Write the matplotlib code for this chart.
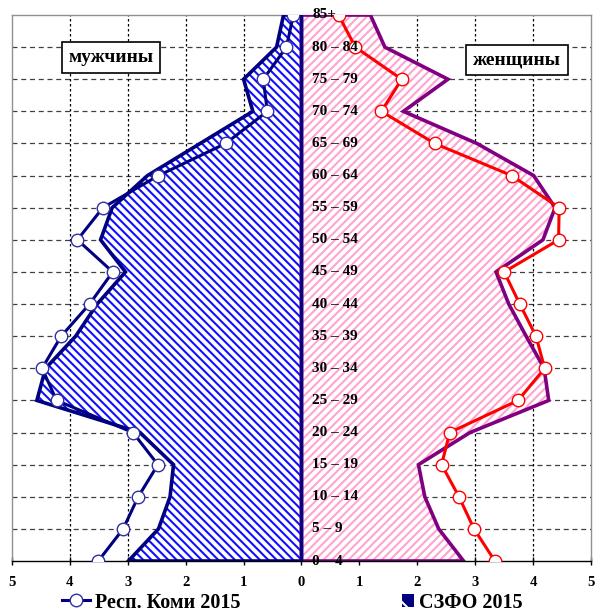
import matplotlib
matplotlib.use("Agg")
import matplotlib.pyplot as plt
from matplotlib.patches import Polygon, Patch
from matplotlib.lines import Line2D
import numpy as np

# Age groups (bottom to top)
age_groups = ["0 – 4", "5 – 9", "10 – 14", "15 – 19", "20 – 24", "25 – 29",
              "30 – 34", "35 – 39", "40 – 44", "45 – 49", "50 – 54", "55 – 59",
              "60 – 64", "65 – 69", "70 – 74", "75 – 79", "80 – 84", "85+"]

# Share of population, % (Komi Republic 2015)
komi_male = [3.51, 3.08, 2.82, 2.48, 2.91, 4.23, 4.48, 4.15, 3.66, 3.26,
             3.87, 3.43, 2.47, 1.31, 0.59, 0.66, 0.26, 0.14]
komi_female = [3.34, 2.98, 2.72, 2.42, 2.56, 3.74, 4.20, 4.05, 3.77, 3.50,
               4.44, 4.45, 3.63, 2.30, 1.38, 1.73, 0.93, 0.64]

# Share of population, % (Northwestern Federal District 2015)
szfo_male = [2.99, 2.47, 2.27, 2.21, 2.79, 4.57, 4.42, 3.90, 3.53, 3.04,
             3.47, 3.27, 2.66, 1.75, 0.84, 1.00, 0.43, 0.31]
szfo_female = [2.80, 2.37, 2.13, 2.02, 2.91, 4.27, 4.19, 3.88, 3.58, 3.36,
               4.17, 4.38, 4.01, 3.03, 1.76, 2.53, 1.44, 1.19]

x_ticks = [-5, -4, -3, -2, -1, 0, 1, 2, 3, 4, 5]

SERIF = ["Liberation Serif", "DejaVu Serif"]
NAVY = "#000080"
PURPLE = "#800080"

plt.rcParams["font.family"] = SERIF
plt.rcParams["font.weight"] = "bold"
plt.rcParams["hatch.linewidth"] = 1.5

fig = plt.figure(figsize=(5.96, 6.12), dpi=100)
ax = fig.add_axes([0.0201, 0.0833, 0.9715, 0.8922])

y = np.arange(len(age_groups))
ax.set_xlim(-5, 5)
ax.set_ylim(0, len(age_groups) - 1)

# Grid
for yy in y[1:-1]:
    ax.axhline(yy, color="#404040", lw=0.9, ls=(0, (4, 3)), zorder=0)
for xx in x_ticks[1:-1]:
    if xx != 0:
        ax.axvline(xx, color="black", lw=0.9, ls=(0, (2, 2)), zorder=0)

# Northwestern FD areas (hatched)
m_pts = [(0, y[0])] + [(-v, yy) for v, yy in zip(szfo_male, y)] + [(0, y[-1])]
f_pts = [(0, y[0])] + [(v, yy) for v, yy in zip(szfo_female, y)] + [(0, y[-1])]

ax.add_patch(Polygon(m_pts, closed=True, facecolor="white", edgecolor="#1010ff",
                     hatch="\\\\\\\\", lw=0, zorder=2))
ax.add_patch(Polygon(m_pts, closed=True, fill=False, edgecolor=NAVY, lw=2.6,
                     joinstyle="miter", zorder=3))
ax.add_patch(Polygon(f_pts, closed=True, facecolor="white", edgecolor="#ffa3d0",
                     hatch="////", lw=0, zorder=2))
ax.add_patch(Polygon(f_pts, closed=True, fill=False, edgecolor=PURPLE, lw=2.6,
                     joinstyle="miter", zorder=3))
ax.axvline(0, color=NAVY, lw=2.0, zorder=3)

# Komi Republic lines
ax.plot([-v for v in komi_male], y, color=NAVY, lw=2.2, marker="o", ms=9,
        mfc="white", mec="#3030a0", mew=1.0, zorder=5)
ax.plot(komi_female, y, color="#ff0000", lw=2.2, marker="o", ms=9,
        mfc="white", mec="#ff0000", mew=1.0, zorder=5)

# Age labels along the centre, drawn over the lines
for yy, lab in zip(y, age_groups):
    ax.text(0.19, yy, lab, ha="left", va="center", fontsize=11,
            fontweight="bold", color="black", zorder=6)

# Sex labels
box = dict(boxstyle="square,pad=0.35", facecolor="white", edgecolor="black", lw=1.2)
ax.text(-3.29, 15.67, "мужчины", ha="center", va="center", fontsize=14,
        fontweight="bold", bbox=box, zorder=7)
ax.text(3.72, 15.6, "женщины", ha="center", va="center", fontsize=14,
        fontweight="bold", bbox=box, zorder=7)

# Axes styling
ax.set_xticks(x_ticks)
ax.set_xticklabels([str(abs(v)) for v in x_ticks], fontsize=10.5, fontweight="bold")
ax.set_yticks([])
ax.tick_params(axis="x", direction="inout", length=6, width=1, pad=8)
for side in ("left", "right", "top"):
    ax.spines[side].set_color("#909090")
    ax.spines[side].set_linewidth(1.0)
ax.spines["bottom"].set_color("black")
ax.spines["bottom"].set_linewidth(1.0)
ax.spines["bottom"].set_zorder(4)

# Legend entries
leg_prop = {"family": SERIF, "weight": "bold", "size": 14.5}
fig.legend(
    [Line2D([], [], color=NAVY, lw=2.2, marker="o", ms=9, mfc="white",
            mec="#3030a0", mew=1.0)],
    ["Респ. Коми 2015"], loc="center left", bbox_to_anchor=(0.104, 0.0155),
    frameon=False, prop=leg_prop, borderpad=0, borderaxespad=0,
    handlelength=1.4, handletextpad=0.25)
fig.legend(
    [Patch(facecolor=NAVY, edgecolor="white", hatch="\\", lw=0)],
    ["СЗФО 2015"], loc="center left", bbox_to_anchor=(0.6745, 0.0155),
    frameon=False, prop=leg_prop, borderpad=0, borderaxespad=0,
    handlelength=0.6, handleheight=0.6, handletextpad=0.25)

fig.savefig("out.png", dpi=100)
